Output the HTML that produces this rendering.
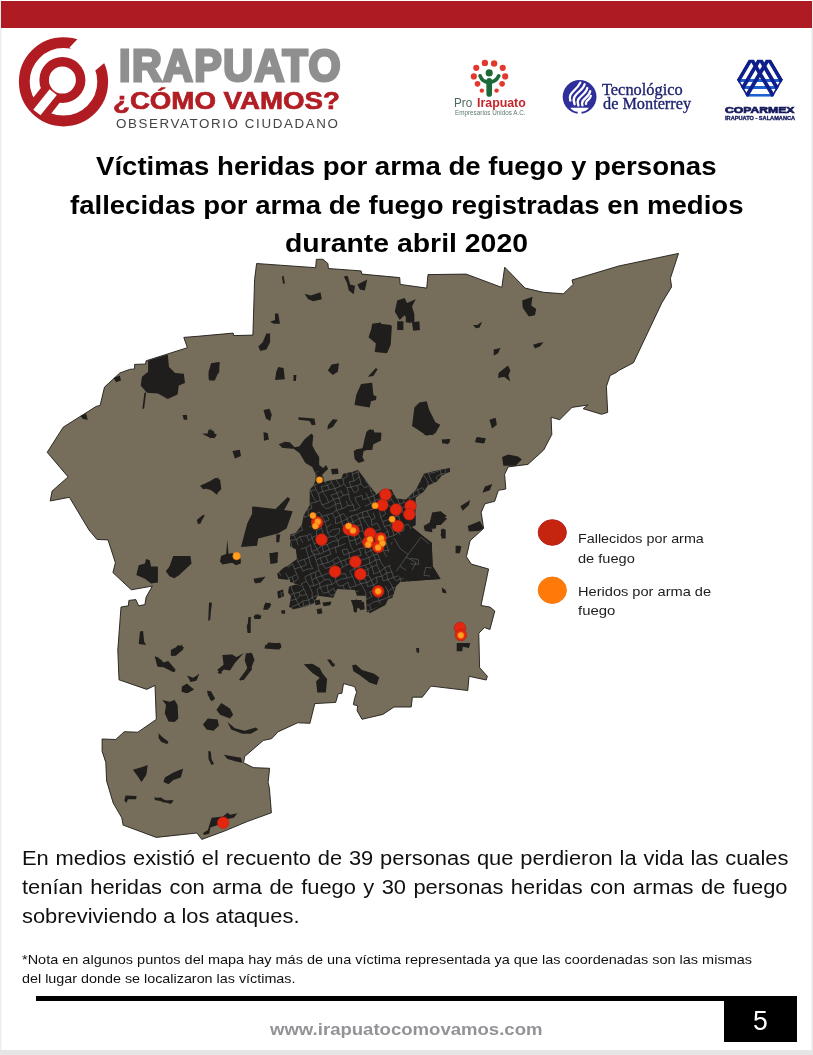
<!DOCTYPE html>
<html lang="es">
<head>
<meta charset="utf-8">
<title>Irapuato ¿Cómo Vamos? - Víctimas por arma de fuego, abril 2020</title>
<style>
html,body{margin:0;padding:0;}
body{width:813px;height:1055px;overflow:hidden;background:#e6e6e6;font-family:'Liberation Sans', Arial, sans-serif;}
.page{position:absolute;left:0;top:0;width:811.5px;height:1049.5px;background:#fff;overflow:hidden;box-shadow:inset 1.5px 0 0 #ededed, inset -1px 0 0 #f2f2f2;}
.topbar{position:absolute;left:1px;top:1px;width:811px;height:26.5px;background:#af1b22;}
.ln{position:absolute;white-space:pre;line-height:1;transform-origin:0 50%;margin:0;padding:0;}
.t1,.t2,.t3{font-weight:bold;color:#000;}
.b1,.b2,.b3,.n1,.n2{color:#101010;}
.l1,.l2,.l3,.l4{color:#1c1c1c;}
.url{font-weight:bold;color:#939397;}
.pg{color:#fff;}
.lg1{font-weight:bold;color:#8f8f8f;}
.lg2{font-weight:bold;color:#b11e24;}
.lg3{color:#444;letter-spacing:1.6px;}
.pi1{color:#4d6b5c;}
.pi2{font-weight:bold;color:#c4262c;}
.pi3{color:#5d7a6b;}
.tm1,.tm2{font-family:'Liberation Serif', 'Times New Roman', serif;color:#1f2370;}
.cp1,.cp2{font-weight:bold;color:#14195c;}
h1,p{margin:0;padding:0;font-weight:normal;font-size:inherit;}
svg{position:absolute;left:0;top:0;}
.rule{position:absolute;left:36px;top:995.7px;width:761px;height:5.2px;background:#000;}
.pgbox{position:absolute;left:724px;top:996px;width:73px;height:45.7px;background:#000;}
</style>
</head>
<body>
<div class="page">
<div class="topbar"></div>
<header>
<svg class="logos" width="813" height="140" viewBox="0 0 813 140"><g fill="none" stroke="#b11c22"><circle cx="63.5" cy="81.8" r="39.2" stroke-width="10.8"/><polygon points="69.5,47.6 80.2,36.2 84,28 114,34 114,58 105.8,61.8 95.3,70.6" fill="#fff" stroke="none"/><line x1="62.4" y1="80.1" x2="38.8" y2="109.9" stroke-width="24"/><circle cx="62.4" cy="80.1" r="18.25" stroke-width="9.5" fill="#fff"/><line x1="53.2" y1="92.1" x2="36.9" y2="112.5" stroke="#fff" stroke-width="9.2"/></g><g transform="translate(440,50) scale(0.123)"><g fill="#e2392d"><circle cx="295" cy="145" r="25"/><circle cx="365" cy="105" r="26"/><circle cx="440" cy="110" r="26"/><circle cx="510" cy="145" r="25"/><circle cx="530" cy="215" r="25"/><circle cx="505" cy="275" r="23"/><circle cx="460" cy="330" r="18"/><circle cx="340" cy="330" r="18"/><circle cx="305" cy="275" r="23"/><circle cx="275" cy="215" r="25"/></g><g fill="none" stroke="#1d6a38" stroke-linecap="round"><circle cx="400" cy="186" r="29" fill="#1d6a38" stroke="none"/><path d="M400 250V358" stroke-width="46"/><path d="M326 210Q345 262 400 262Q455 262 478 210" stroke-width="30"/></g></g><g><circle cx="579.6" cy="96.9" r="16.9" fill="#2f2f9c"/><g fill="none" stroke="#fff" stroke-width="2.3" stroke-linecap="round"><path d="M570.3 100.5C567.5 92.5 576.5 91 580.3 82.6"/><path d="M574.6 104.2C570.5 94 581.5 93 584.6 84.3"/><path d="M578.4 105.4C574.5 97 585.5 96 587.3 88"/><path d="M582.4 105.4C580 99 589 98 590.2 91.2"/><path d="M586 103.8C585 100.5 590.5 99.5 590.8 96"/></g><path d="M570.2 107.7H589Q586 111.6 581.5 111.8V114.5H577.7V111.8Q573.2 111.6 570.2 107.7Z" fill="#fff"/></g><clipPath id="hex"><polygon points="213,58 597,58 795,395 625,692 185,692 15,395"/></clipPath><g transform="translate(736,56) scale(0.05903)"><g clip-path="url(#hex)" fill="none"><g stroke="#1b5fd0" stroke-width="50"><path d="M0 414H813"/><path d="M40 534H770"/><path d="M120 668H690"/></g><g stroke="#0e1f8a" stroke-width="64"><path d="M-19 520L259 49L643 700"/><path d="M56 640L405 49L754 640"/><path d="M167 700L551 49L829 520"/><path d="M15 395L185 692M795 395L625 692" stroke-width="56"/></g></g></g></svg>
<div class="brand"><span class="ln lg1" style="left:118.5px;top:42.5px;font-size:45.0px;transform:scaleX(0.9151);-webkit-text-stroke:3.0px #8f8f8f;letter-spacing:1.6px">IRAPUATO</span><span class="ln lg2" style="left:113.3px;top:88.6px;font-size:24.0px;transform:scaleX(1.1520);-webkit-text-stroke:0.7px #b11e24">¿CÓMO VAMOS?</span><span class="ln lg3" style="left:116.2px;top:116.8px;font-size:13.4px;transform:scaleX(0.9975);letter-spacing:1.6px">OBSERVATORIO CIUDADANO</span></div>
<div class="partner"><span class="ln pi1" style="left:454.3px;top:97.2px;font-size:12.0px;transform:scaleX(0.9739)">Pro</span><span class="ln pi2" style="left:476.5px;top:97.2px;font-size:12.0px;transform:scaleX(1.0308)">Irapuato</span><span class="ln pi3" style="left:454.6px;top:110.1px;font-size:6.6px;transform:scaleX(0.9583)">Empresarios Unidos A.C.</span></div>
<div class="partner"><span class="ln tm1" style="left:601.5px;top:82.3px;font-size:16.6px;transform:scaleX(0.9862);-webkit-text-stroke:0.35px #1f2370">Tecnológico</span><span class="ln tm2" style="left:603.4px;top:95.7px;font-size:16.6px;transform:scaleX(0.9799);-webkit-text-stroke:0.35px #1f2370">de Monterrey</span></div>
<div class="partner"><span class="ln cp1" style="left:724.8px;top:105.1px;font-size:9.6px;transform:scaleX(1.2698);-webkit-text-stroke:0.7px #14195c">COPARMEX</span><span class="ln cp2" style="left:724.8px;top:115.8px;font-size:5.0px;transform:scaleX(1.1250);-webkit-text-stroke:0.3px #14195c">IRAPUATO - SALAMANCA</span></div>
</header>
<h1><span class="ln t1" style="left:96.0px;top:154.4px;font-size:25.2px;transform:scaleX(1.0945)">Víctimas heridas por arma de fuego y personas</span><span class="ln t2" style="left:70.0px;top:192.5px;font-size:25.2px;transform:scaleX(1.0935)">fallecidas por arma de fuego registradas en medios</span><span class="ln t3" style="left:284.5px;top:230.7px;font-size:25.2px;transform:scaleX(1.1271)">durante abril 2020</span></h1>
<svg class="map" width="813" height="1055" viewBox="0 0 813 1055"><polygon points="89,530 69.4,497.3 50.2,501 52.1,491.1 68.1,476.9 47.2,452.3 63.2,427.2 96.4,406.3 100.1,405.5 104.5,387.1 119.8,373 129.6,369.4 134.6,368.9 134.6,364.4 145.6,364 146.1,360.8 167.8,353.9 187.4,347.7 183.8,337.4 200,336.1 233.2,333.1 233.7,335.6 252.9,335.1 254.6,279.5 256.6,263.5 315.6,267.7 316.4,259.3 323,259.3 327.9,263.5 328.4,268.5 361.1,270.9 361.9,274.1 399.7,277.6 400.2,284.4 426.7,288.1 428,274.6 466.1,274.1 501.8,287.4 504.7,267.2 525.1,288.1 543.6,292.3 563.4,293.8 573.2,284.4 572,280 618.7,266 678.5,253.4 670.4,278.3 671.6,286.9 661.8,302.9 633.5,362.7 618.7,370.5 616.3,372.5 610.1,375.5 606.4,386.5 607.7,412.4 601.5,414.3 583.1,408.7 588,405 572,407.4 559.7,419.7 551.1,417.3 551.8,434.5 543.7,450 527.9,464.4 508.2,466.9 504.6,474.3 505.8,489 498.4,490.3 494.7,501.3 484.9,503.8 481.2,512.4 483.6,528.4 470.1,540.7 466.4,556.7 471.3,564.1 488.6,569 481,605.5 489.9,607 494.8,611 489.9,629.5 484.5,627.6 478.8,633.2 479.6,667.7 487.4,676.3 486.2,680 469,676.3 467.8,690.5 430.9,686.1 422.3,697.2 412.4,697.2 411.2,707 394,707 382.9,714.4 362,719.3 357.1,710.7 357.6,705.8 353.4,704.6 354.6,698.4 356.6,692.3 354.6,686.6 343.5,683.6 341.9,693.3 338.2,693.8 335.7,702.4 314.8,703.6 309.9,723.3 297.6,722.8 277.9,731.9 271.8,738.6 263.2,740.5 244.7,756.5 243.5,762.7 253.3,767.6 269.6,768.3 268.1,782.4 269.4,788.2 271.4,812.8 247.3,821.5 223.9,831.3 201.8,839.4 196.9,833 156.3,837.4 123.1,825.1 121.8,817.8 113.2,803 106.6,780.9 105.8,762.4 102.1,751.3 102.1,739 115.7,739.5 124.3,731.7 137.8,732.2 156.3,719.4 155,685.4 146.8,689.4 119,679.8 117.8,650.1 121,607 128.4,605.8 128.9,600.4 135.8,599.6 138.7,605.8 144.9,604.6 146.1,597.2 152.3,586.1 131.3,589.8 112.9,572.6 115.4,562.7 108,539.9 96.9,539.4" fill="#766e5b" stroke="#1e1c19" stroke-width="0.9" stroke-linejoin="miter"/><path d="M148.1 360.8 167.8 354.6 169 366.9 175.1 373.1 183.8 373.8 185 382.9 178.8 385.4 177.6 394.5 167.8 398.9 157.9 393.5 146.9 392.7 140.7 385.4 141.9 376.7 148.1 371.8ZM144.4 392.7 146.1 392.7 144.1 408.7 142.4 408.7ZM212 363.2 218.2 362 219.4 371.8 213.3 380.4 209.1 380.4 208.4 374.3 211.5 370.6ZM113.6 378 119.8 375.5 121 380.4 116.1 382.2ZM80.4 416.1 86.1 413.6 87.8 419.8 82.9 419.1ZM182.5 414.9 186.9 414.9 187.4 419.8 183.8 419.8ZM202.2 433.8 209.6 433.3 210.8 428.4 213.3 433.3 217 434.6 214.5 438.2 208.4 437ZM199.7 486.2 207.1 482.5 218.2 477.6 220.7 487.4 217 494.8 210.8 489.9 205.9 488.7ZM197.3 519.4 203.4 514.5 201 523.1 198.5 524.3ZM281.9 276.6 283.6 275.8 284.9 283.2 283.1 283.9ZM304.6 293.8 310.7 295.5 320.5 292.3 321.8 299.2 313.2 301.2 308.2 299.2ZM343.9 276.6 347.6 275.8 350.1 284.4 355 285.7 353.8 294.3 348.8 290.6 347.1 283.2ZM357.4 284.4 367.3 279.5 364.8 290.6 359.9 289.4ZM275 313.5 278.2 313.5 280 323.8 273.8 323.8 270.1 321.8 275 320.1ZM266.4 333.6 270.1 333.6 270.1 342.3 266.4 349.6 260.3 350.9 258.3 346.4 262.7 342.3ZM211.1 363.2 219.7 361.9 219.2 370.5 214.8 380.4 208.6 379.2 208.6 371.8ZM278.2 366.9 283.6 368.1 284.9 379.2 275 379.9 276.3 371.8ZM293.5 375 296.4 375 295.9 380.9 293.5 380.9ZM331.6 364.4 339 363.2 337.8 371.8 332.8 375 327.9 370.5ZM372.2 323.8 380.8 322.6 382 326.3 391.9 325.8 390.7 344.7 387 353.3 374.7 352.1 375.9 343.5 368.5 337.3 371 330ZM375.9 368.1 377.6 369.3 373.4 376 367.8 376.7ZM361.1 384.1 372.2 382.8 373.4 395.1 376.6 396.4 375.9 400.1 371 401.3 369.7 407.4 354.5 405 356.2 395.1ZM263.5 409.9 269.4 408.7 271.8 414.8 270.1 421 265.9 418.5ZM298.4 417.3 314.4 418.5 315.6 424.7 311.9 425.2 309.5 421 298.4 419.7ZM332.8 419.2 337.8 419.7 332.8 427.1 327.4 429.6 327.9 425.2ZM208.6 429.6 213.5 430.8 216 437 209.8 438.2 207.4 434.5ZM263.5 432 267.7 433.3 268.9 439.4 264 440.7ZM278.7 444.3 284.9 441.9 288.6 446.8 282.4 448ZM367.3 430.8 373.4 429.6 374.7 433.3 381.5 433.3 380.8 440.7 373.4 444.3 372.2 450 363.6 450 364.3 439.4ZM397.2 300.4 404.6 298 407.1 302.9 415.7 299.2 412 306.6 414.4 314.5 409.5 323.8 404.6 315.2 399.7 320.1 394.8 311.5ZM412 322.6 419.4 321.3 419.9 330 413.2 330.7ZM405.8 314.5 414.4 314.5 414.4 322.6 405.8 322.6ZM397.2 321.3 403.4 321.3 403.4 330 397.2 330ZM380 323.8 391.1 325 388.6 348.4 380 352.1ZM473 325 477.2 325 482.1 321.8 479.6 327.5 475.9 328.2ZM522.2 300.4 532.5 296.7 531.3 305.4 536.2 309 535 315.2 528.8 316.4 522.7 307.8ZM533 344.7 538.7 343 543.6 342.3 539.9 346.4 535 348.4ZM493.7 349.6 500.5 347.9 498.1 353.3 493.7 355.8ZM498.6 373 507.9 365.6 510.4 370.5 508.4 375.5 510.4 381.6 504.2 376.7 498.1 377.9ZM414.4 407.4 419.4 402.5 426.7 401.3 429.2 409.9 435.4 422.2 440.3 424.7 435.4 433.3 426.7 435.7 419.4 430.8 412 425.9ZM489.5 419.7 495.6 417.8 496.9 424.7 491.9 428.4ZM477.2 437 485.8 438.2 484.6 443.1 475.9 441.9ZM441.5 439.4 450.1 438.9 447.7 444.3 442.7 443.1ZM502.1 457.1 508.2 454.6 518.1 456.6 521.8 459.5 515.6 465.7 503.3 465.7ZM476.3 437.4 484.9 438.6 483.6 443.5 475 442.3ZM441.8 439.8 450.4 439.3 449.2 443.5 442.3 443.5ZM422.1 430 436.9 430 433.2 434.9 424.6 434.9ZM484.9 486.6 492.3 484.1 489.8 490.3 482.4 492.7ZM460.3 506.3 470.1 500.1 468.9 505 462.7 510.7ZM432 512.4 440.6 511.2 446.7 516.1 443.1 519.8 436.9 523.5 435.7 528.4 424.6 529.6 424.6 525.9 430.8 522.3ZM467.7 525.9 480 521 483.6 528.4 478.7 530.9 468.9 531.4ZM441.8 528.4 445.5 529.6 444.3 537 440.6 535.8ZM455.4 548.1 461.5 546.1 460.3 551.8 456.6 551ZM441.8 587.4 445.5 589.9 446.7 593.6 442.3 592.4ZM352.1 665.2 355.8 664.5 362 670.1 374.3 673.8 379.2 677.5 376.7 684.9 369.4 682.4 359.5 675 353.4 671.3ZM416.1 648 419.1 648 419.1 652.9 416.6 652.2ZM456.7 643.1 470.2 643.1 469 648 462.8 646.7 462.3 651.2 456.7 651.2ZM331.2 662.7 334.9 663.5 334.4 666.4 331.2 665.9ZM350.9 600 362 600 359.5 608.6 353.4 607.4ZM366.9 600 387.8 600 385.4 604.9 369.4 613.5ZM154.9 656.9 161.1 659.4 164.8 664.3 174.6 670.4 173.4 672.2 163.5 667.2 157.4 666.7ZM170.9 650.8 177.1 648.3 182 644.6 183.2 649.5 175.8 655.7 170.9 655.7ZM222.6 655.7 231.2 654.4 234.9 658.1 243.5 653.2 234.9 663.1 230 670.4 222.6 669.2 221.3 674.1 217.7 672.9 218.9 669.2 223.8 665.5ZM245.9 653.2 252.1 653.2 254.6 660.6 250.9 665.5 252.1 669.2 243.5 680.3 240.5 679 247.2 668 244.7 660.6ZM268.1 642.6 280.4 643.4 281.6 647.1 279.2 649.5 265.1 648.3ZM303.8 664.3 312.4 663.8 319.7 668 322.2 672.9 327.1 679 325.9 692.6 317.3 692.6 316.1 681.5 319.7 677.8 312.4 672.9 307.4 668ZM186.9 675.4 193.1 677.8 199.2 674.1 196.7 680.3 190.6 681.5ZM182 686.4 186.9 683.5 191.8 687.7 193.1 690.1 185.7 693.3 181.5 691.3ZM207.1 690.8 211 691.3 215.2 698.7 211.5 701.2 207.8 695ZM162.3 700 169.7 701.7 174.6 700 177.6 704.9 178.3 718.4 174.6 722.1 168.5 721.4 164.8 713.5 166 704.9ZM221.3 703.1 230 708.6 233.1 714.7 230 718.4 220.1 714.7 216.4 709.8ZM207.8 718.4 217.7 719.6 218.9 725.8 213.5 730.7 206.6 729.5 202.9 724.6ZM227.5 722.1 234.9 728.2 244.7 730.7 255.8 727.5 258.2 729.5 250.9 733.7 242.3 733.7 231.2 729.5ZM158.6 733.2 162.3 736.9 168.5 741.8 167.2 744.2 161.1 741.8 158.6 738.1ZM208.3 750.9 210.8 751.6 211.5 759 214 763.9 211.5 765.1 208.5 759ZM223.8 754.8 233.6 756.5 241 757.8 242.3 762.7 236.1 761.5 227.5 759ZM164.8 777.4 173.4 772.5 179.5 770.1 183.2 768.8 180.8 777.4 173.4 779.9 168.5 784.3 163.5 781.9ZM154.4 797.6 161.1 798.4 167.2 800.8 172.1 802 170.9 804 162.3 801.5 154.9 800.1ZM327.1 659.4 330.8 659.4 334.5 665.5 332 666.7ZM247.2 623.7 250.9 624.9 249.6 632.3 247.2 631.1ZM138.7 565.2 144.9 563.5 146.1 559 149.8 560.3 151 566.4 157.9 566.4 157.9 582.4 151 583.6 144.9 578.7 136.3 575ZM173.2 556.1 190.4 556.1 191.6 563.5 179.3 575 174.4 578.2 169.5 576.3 165.8 571.3 169.5 566.4ZM221.1 556.1 226.1 554.1 227.3 539.4 228.5 554.1 232.2 552.9 240.8 559 240.8 563.5 235.9 565.2 232.2 562.7 222.4 564.5 219.9 561.5ZM199 518.5 205.1 514.8 200.2 523.4 197.3 523.4ZM140 631.6 143.1 630.9 144.1 641.5 146.1 645.1 138.7 643.9ZM154.7 656.2 158.4 657.4 163.3 662.4 168.2 661.1 175.6 669.7 174.4 672.2 165.8 667.3 157.2 666.1ZM170.7 650.1 175.6 647.6 178.1 645.1 184.2 647.6 178.1 653.8 171.9 656.2ZM222.4 655 232.2 654.5 237.1 657.4 243.3 653.8 232.2 664.8 229.7 669.7 223.6 669.7 219.9 673.4 217.4 669.7 223.6 664.8ZM245.7 655 250.7 652.5 254.3 659.9 250.7 669.7 240.8 680.8 239.1 679.6 248.2 667.3ZM187.9 675.9 194.1 678.4 199 673.4 196.5 680.8 190.4 682ZM181.8 687 187.9 684.5 194.1 689.4 187.9 693.1 181.8 691.9ZM207.6 690.7 212.5 694.3 215 700 210.1 700ZM254.3 578.7 260 577.5 260 582.4 255.6 583.6ZM210.1 603.3 212 603.3 209.6 620.5 208.1 620.5ZM248.2 618.1 250.7 618.1 249.9 632.8 247.5 632.8ZM132.9 769.8 141.5 767.3 147.7 764.9 146.4 774.7 141.5 782.1 136.6 774.7ZM125.5 795.6 136.6 796.1 136.1 799.3 128 799.3 126.2 803 124.3 800.5ZM153.8 798.1 161.2 797.6 164.9 800.5 173.5 800 172.3 802.5 163.6 802.5ZM211.6 817.8 222.7 816.5 227.6 812.8 230.1 814.8 237.4 813.3 233.8 817.8 227.6 819 217.8 825.1 210.4 827.6 209.2 833.8 204.2 835 203 833 207.9 830.1ZM252.1 506.4 275.5 508.9 287.8 497.1 290.2 499 284.1 510.1 292.7 511.3 286.5 528.6 277.9 533.5 258.2 538.4 257 545.8 241 547 247.2 523.6 252.1 513.8ZM200.4 485.5 209 481.8 215.2 478.1 220.1 479.4 221.3 489.2 216.4 494.1 210.3 488 202.9 489.2ZM232.4 451.1 239.8 449.8 241 456 234.9 458.5ZM196.7 520 204.1 515 200.4 523.1 198 523.6ZM255.8 579 265.6 576.5 260.7 582.7 254.6 582.2ZM209 602.4 211.5 602.4 210.3 619.6 208.3 619.6ZM248.4 617.1 250.9 617.1 250.4 633.1 247.2 631.9ZM264.4 604.8 270.5 602.4 268.1 609.7 263.2 609.7ZM254.6 614.7 259.5 614.2 258.2 618.4 254.6 618.4ZM270.5 553.2 276.7 551.9 277.9 561.8 271.8 563ZM432.2 512.6 440.8 511.3 447 518.7 440.8 524.9 432.2 524.9 432.2 532.3 424.8 531 423.6 526.1 429.7 522.4ZM440.8 529.8 445.7 529.8 445.7 538.4 441.5 538.4ZM455.6 545.8 460 545.8 460 553.2 455.6 553.2ZM269.4 553.1 278.2 552.2 277.2 563 270.4 564ZM276.3 534.4 280.2 534.4 279.2 542.3 276.3 542.3ZM265.4 602.4 271.3 604.3 269.4 608.3 263.5 608.3ZM253.6 616.1 261.5 615.2 260.5 619.1 254.6 619.1ZM246.7 626 250.7 626 250.7 632.9 247.7 632.9ZM253.6 578.7 265.4 576.8 259.5 581.7 254.6 582.7ZM265.4 644.7 280.2 642.7 281.2 646.7 277.2 649.6 264.4 648.6ZM314.6 600.4 319.6 599.4 320.6 604.3 315.6 605.3ZM322.5 602.4 331.4 601.4 330.4 605.3 323.5 606.3ZM316.6 609.3 321.5 608.3 322.5 613.2 317.6 614.2ZM352 600.4 357 599.4 358 604.3 353 605.3ZM358.9 602.4 363.9 601.4 364.8 609.3 359.9 610.2ZM353 607.3 357 607.3 357 612.2 354 612.2ZM281.2 610.2 285.1 610.2 285.1 613.8 281.6 613.8ZM278.9 444.3 284.8 441.7 289.7 442.3 294.6 447.2 299.5 446.3 304.4 439.4 311.3 433.5 313.3 435.4 312.3 445.3 315.3 451.2 319.2 457.1 319.2 465 323.1 467.9 326.1 465 328.1 468.9 323.1 473.8 316.3 475.8 312.3 466.9 305.4 463 299.5 453.1 293.6 448.8 285.7 448.2ZM366.5 431.5 370.4 429.1 373.3 432.5 381.2 432.5 381.2 438.4 376.3 442.3 372.4 442.3 371.4 448.2 363.5 451.2 362.5 457.1 364.5 461 358.6 463 354.6 459.1 353.7 451.2 356.6 449.2 362.5 448.2 364.5 439.4ZM331 468.9 337.9 468.5 338.5 473.8 332 474.4Z" fill="#1f1e1c"/><path d="M315.6 471.8 321.5 470.8 324.4 482 328.4 480.7 341.2 478.7 343.1 473.8 353 471.8 357.9 469.8 372.7 489.5 376.6 494.4 382.5 489.5 391.4 489.5 396.3 498.4 406.1 499.4 416 489.5 423.9 473.8 439.6 469.8 450 467.9 450 471.8 441.6 475.7 436.7 481.7 427.8 485.6 423.9 491.5 416 497.4 416 525 412 526.9 423.9 536.8 431.7 542.7 432.7 566.3 440.6 579.1 425.8 580.1 400.2 582 396.3 586 392.4 597.8 382.5 601.7 376.6 607.6 366.8 612.6 365.8 595.8 356.9 595.8 355 589.9 337.2 588.9 333.3 597.8 317.6 595.8 313.6 603.7 301.8 607.6 292 609.6 295.9 597.8 301.8 586 290 582 290 570.2 299.8 566.3 303.8 558.4 297.9 550.6 290 546.6 290 534.8 295.9 532.8 301.8 525 303.8 515.1 309.7 505.3 309.7 489.5 313.6 485.6 315.6 479.7Z" fill="#1f1e1c"/><path d="M307.8 535.4 300.9 542.3 295.9 550.2 296.9 559.1 289.1 565 283.1 567.9 277.2 573.8 278.2 578.7 287.1 579.7 295 577.8 304.8 576.8 308.7 572.8 316.6 565 322.5 559.1 322.5 539.4Z" fill="#1f1e1c"/><path d="M289.1 586.6 295.9 584.6 303.8 586.6 308.7 582.7 307.8 590.6 304.8 598.4 295.9 608.3 289.1 607.3 291 596.5 288.1 592.5ZM277.2 591.5 283.1 589.6 284.1 596.5 278.2 598.4Z" fill="#1f1e1c"/><clipPath id="cityclip"><polygon points="315.6,471.8 321.5,470.8 324.4,482 328.4,480.7 341.2,478.7 343.1,473.8 353,471.8 357.9,469.8 372.7,489.5 376.6,494.4 382.5,489.5 391.4,489.5 396.3,498.4 406.1,499.4 416,489.5 423.9,473.8 439.6,469.8 450,467.9 450,471.8 441.6,475.7 436.7,481.7 427.8,485.6 423.9,491.5 416,497.4 416,525 412,526.9 423.9,536.8 431.7,542.7 432.7,566.3 440.6,579.1 425.8,580.1 400.2,582 396.3,586 392.4,597.8 382.5,601.7 376.6,607.6 366.8,612.6 365.8,595.8 356.9,595.8 355,589.9 337.2,588.9 333.3,597.8 317.6,595.8 313.6,603.7 301.8,607.6 292,609.6 295.9,597.8 301.8,586 290,582 290,570.2 299.8,566.3 303.8,558.4 297.9,550.6 290,546.6 290,534.8 295.9,532.8 301.8,525 303.8,515.1 309.7,505.3 309.7,489.5 313.6,485.6 315.6,479.7"/><polygon points="307.8,535.4 300.9,542.3 295.9,550.2 296.9,559.1 289.1,565 283.1,567.9 277.2,573.8 278.2,578.7 287.1,579.7 295,577.8 304.8,576.8 308.7,572.8 316.6,565 322.5,559.1 322.5,539.4"/><polygon points="289.1,586.6 295.9,584.6 303.8,586.6 308.7,582.7 307.8,590.6 304.8,598.4 295.9,608.3 289.1,607.3 291,596.5 288.1,592.5"/><polygon points="277.2,591.5 283.1,589.6 284.1,596.5 278.2,598.4"/></clipPath><path clip-path="url(#cityclip)" d="M278.7 600.3L280.7 604.0L283.1 608.6L284.6 615.4L285.9 620.2M276.3 577.3L278.3 582.5M280.7 593.0L282.2 597.0L284.6 602.1L286.9 606.9L288.3 612.5L290.8 617.9M277.4 569.6L280.9 575.7M283.0 579.8L285.0 585.7L285.8 591.0L289.6 595.7M297.7 615.2L299.0 621.9M277.5 553.1L278.5 558.1L280.6 562.5L283.9 567.7M285.7 573.4L288.3 577.6L289.8 583.1L291.8 588.6L293.6 593.5L296.0 599.4L298.5 604.2L300.5 607.8M302.4 614.6L304.3 617.8M276.3 536.1L278.6 539.6L279.8 546.6M282.6 550.9L283.1 555.0L286.7 560.4L287.9 567.1M292.0 577.1L294.0 582.2M299.2 592.1L300.0 595.8M302.7 600.9L303.9 606.2M305.8 611.5L308.5 616.6M276.6 523.0L278.4 528.2L281.1 534.3M284.2 538.0L285.2 544.5L286.9 548.3L288.3 553.7L291.4 558.7M292.9 564.0L294.4 568.8L296.7 574.1L298.4 578.4M301.2 583.8L304.0 589.2L306.5 594.5L308.7 600.0L309.7 604.3L312.8 608.5L314.7 614.8L315.6 620.9M277.0 510.6L280.3 515.0L283.0 521.7L284.1 525.8L286.4 531.5L289.0 536.2M290.3 540.3L291.5 546.2L294.9 550.9L296.3 555.5L297.6 561.6L301.2 567.0L303.0 571.3M304.8 576.9L306.5 581.3L309.5 586.2L312.3 592.8L312.1 597.7L316.2 603.2L316.9 607.2L319.0 613.8L320.8 618.2L322.7 623.2M276.6 493.2L280.1 498.2L280.7 503.5L282.3 507.9L284.7 514.7L287.2 519.9M288.6 523.7L291.2 528.4L293.6 535.2L296.5 539.5L298.2 545.1M304.2 559.3L306.4 564.8M310.5 573.8L311.8 579.7L313.8 585.8M316.9 589.3L318.3 594.8L320.3 600.2L321.3 605.1M324.1 611.7L326.2 615.2L329.7 621.5M278.4 480.2L279.3 485.8L281.8 491.2L285.3 496.7L286.5 500.2M287.5 507.4L291.1 511.3L292.1 515.7M294.6 522.8L297.4 527.4M299.5 536.8L302.9 542.6M305.8 547.5L307.3 552.9L308.8 557.7L310.2 563.6L312.8 568.8M315.2 572.3L316.1 577.8L319.6 583.4L320.1 587.6L323.4 593.4M329.0 608.6L332.6 613.6L334.3 618.4L334.9 623.6M277.0 462.9L279.7 469.1L280.7 473.3L283.8 478.2L285.5 483.3M286.8 490.0L289.2 495.4L291.0 498.8M292.7 504.6L296.1 510.4L296.7 514.8L299.3 521.0L300.5 524.3L302.7 530.2M306.8 535.6L308.6 541.0M310.6 544.6L311.6 551.6L314.1 554.3L316.2 560.2L317.7 565.5L319.0 570.1L321.6 575.8L324.9 579.9M327.0 585.1L328.3 592.0L331.0 595.9M331.5 601.7L334.6 607.5M335.9 611.6L339.1 615.4M281.4 461.3L283.2 467.7L287.0 471.8L288.7 475.6L289.6 482.2L293.6 487.7L293.9 491.8M299.1 501.4L301.3 507.8M303.4 512.9L304.7 517.3M310.4 533.8L312.0 537.5L314.0 543.7L317.0 549.5L320.2 554.1M320.3 557.9L322.3 564.0L325.6 568.5M329.7 579.2L332.2 584.5M333.5 588.2L336.1 593.5M339.9 603.6L341.0 609.2L343.4 615.7L345.8 619.3M290.2 464.5L292.0 469.2L293.9 474.5L295.0 480.8M297.9 483.9L299.7 490.4L300.8 495.3L302.6 500.1M305.2 505.9L307.7 509.9L308.6 515.7M311.9 520.0L313.2 525.4M316.5 530.8L316.7 535.6L319.9 541.4L322.0 545.3L323.6 552.1M325.8 556.1L328.2 562.7M330.0 567.0L332.0 571.7L335.6 577.6L336.0 581.5L338.8 586.3M339.9 593.4L342.8 598.0L344.9 603.2L346.4 606.8L347.9 613.1M351.6 618.4L352.3 623.4M293.5 458.1L293.8 461.7L297.1 467.2L299.3 472.7M304.6 488.9L307.0 492.3L308.0 498.4M310.6 503.2L311.8 508.3M315.6 514.3L316.0 519.2L319.1 522.7L321.4 527.9L323.3 534.0L325.2 538.6M327.1 544.5L329.2 549.7L331.1 554.3M332.5 560.2L335.2 564.1M338.3 570.1L339.2 574.2M342.9 585.2L344.8 590.3M347.4 594.3L349.8 599.4L352.6 605.8L353.6 609.6L355.9 615.4M299.6 459.7L302.0 464.9M303.8 469.8L305.8 476.7M306.8 480.7L309.5 485.7L310.5 490.9L313.4 497.4L316.5 502.0M319.2 511.9L322.1 516.3L324.8 521.6L326.6 527.6L327.8 533.3L330.4 536.7M335.4 547.0L336.3 553.0M338.1 556.8L340.6 561.4L343.0 566.9M345.3 573.6L347.0 578.1M348.0 582.1L349.6 587.7L353.1 592.9L355.3 599.1M356.0 603.1L359.0 607.4M305.6 464.3L308.5 468.4L310.8 473.6L313.7 479.0M314.5 485.0L315.9 489.5L318.4 493.7L320.2 500.2L322.0 504.9L325.6 508.4M326.6 515.1L329.3 520.0M334.7 536.2L338.1 540.3L338.7 546.3M342.0 550.0L344.0 555.1M344.7 559.9L346.8 564.9M349.6 571.3L352.5 576.3L354.1 580.2L356.0 585.8M359.7 596.7L362.8 600.3L364.5 605.1M365.5 611.2L369.2 617.3L370.7 621.1M309.6 457.0L311.6 461.1L313.2 467.1L315.2 472.9L316.6 476.2L319.4 483.1M321.3 486.4L322.6 491.6L326.5 497.4L328.7 502.7M332.2 513.3L335.2 518.2L335.7 523.9M339.6 528.4L339.4 532.7M347.1 548.8L348.8 552.8L349.6 557.9L353.1 562.7L354.4 568.6L355.7 573.6L358.7 579.5L360.6 583.7L364.0 588.7L366.0 594.1L366.2 599.4M369.4 604.9L371.2 610.0L373.2 613.9L375.8 618.5M316.6 460.6L318.1 464.2L321.2 469.5M322.2 475.4L324.3 480.8L327.6 485.4L329.2 489.7M330.8 495.1L333.6 499.1L335.6 504.1L336.5 510.2L340.2 515.3L341.5 521.6L342.9 525.9L345.8 531.4L348.2 536.1L349.2 540.9L351.3 547.2L354.3 551.6M355.1 556.5L358.5 561.4L359.1 566.8L362.6 570.8M363.3 576.6L366.8 582.4L367.2 586.6M369.6 591.9L372.1 596.5M377.6 607.5L378.1 613.7M379.6 617.7L383.8 622.9M322.0 457.2L323.2 463.0L325.9 468.2L328.7 472.2L330.4 478.3L331.7 482.4L334.9 488.6L336.9 493.3L339.1 498.3L340.6 503.1L342.1 508.8M343.6 513.7L347.3 518.8L348.6 523.1L350.4 528.8L352.9 533.6L355.5 539.8L356.3 544.7M359.3 548.8L361.3 555.3M364.6 565.4L368.0 569.3L368.4 575.2L371.5 580.2L373.4 585.2L376.0 589.8M377.6 596.1L379.0 600.8L381.5 605.9L383.2 611.7M331.7 465.6L333.0 470.8L334.9 476.9L337.0 481.3L340.1 486.3M341.1 490.7L343.1 495.4M346.0 500.7L348.0 505.6M351.2 516.0L352.8 522.5L355.1 526.4M357.4 532.0L359.8 537.3L362.1 541.6L365.1 547.5L365.4 553.3L369.1 557.6L369.7 563.4L372.1 566.5L373.6 574.0M376.4 577.1L377.3 582.5M380.1 588.7L381.9 592.5M386.3 604.3L389.1 608.8L391.4 614.1L393.7 619.0M336.5 464.2L337.4 469.7M340.2 473.9L342.9 479.4L344.0 483.8L347.0 487.8L348.8 494.3L349.6 499.8L353.3 505.0L354.7 510.5M356.7 514.5L359.2 518.3L361.4 524.8L362.8 530.7L364.6 535.0L367.3 540.5L368.4 545.2L371.0 550.4L373.7 554.6L375.8 559.9L377.1 565.0L379.8 571.6L382.0 576.2L383.0 580.6M385.2 586.2L388.1 591.5L388.9 596.9L392.5 601.0L392.7 606.3L394.6 611.2L398.9 616.4L400.5 622.1M342.1 462.1L343.5 466.2M346.2 472.0L347.3 476.2M349.0 481.8L351.1 487.0L354.2 492.8M354.8 497.6L356.4 501.8L360.4 507.2M362.6 512.0L362.8 517.7L366.5 523.5L368.9 527.3M369.5 532.1L372.2 537.2M373.1 542.3L375.4 548.9L377.9 554.5L379.8 559.4L381.2 562.8L384.7 567.8L386.7 572.8L387.9 579.7L391.4 584.4L392.8 587.9L395.2 594.4M398.8 605.4L401.0 608.2L402.1 615.1L405.4 618.4M346.5 459.1L348.4 465.2M351.6 469.8L352.4 474.2L354.0 481.1M357.3 485.4L358.4 490.3M362.0 495.4L362.8 499.7M366.8 510.9L369.5 516.2L371.5 519.9L371.9 525.6M375.1 531.0L378.2 536.4L378.6 542.0M382.3 546.6L383.3 550.7L386.4 556.6M388.9 565.8L392.0 572.1L393.3 577.4L396.4 580.9M399.6 591.4L401.6 597.8L404.5 601.9L405.5 608.2L408.4 611.6L410.7 618.2L413.0 622.3M352.8 463.0L355.8 466.6L357.6 472.2L359.3 476.7L361.1 484.2L364.5 487.6M365.8 492.5L368.4 497.7L371.1 503.4L373.0 509.0M373.2 512.7L375.2 518.1M377.0 523.0L380.7 529.4M382.6 534.8L384.8 537.7L386.5 543.7L388.1 550.4L390.1 554.5M396.3 568.9L400.1 575.2L399.9 579.0L402.3 584.7L406.1 590.4L407.3 593.8M409.8 600.3L411.8 606.1L412.0 610.0L416.1 616.1L417.5 620.0M358.0 461.6L360.4 466.6L363.7 471.1L364.0 475.9L366.3 482.0L369.7 485.8L370.7 490.7L373.6 495.8L375.0 500.3L376.2 505.6M379.6 511.3L380.8 517.5L382.7 521.6L384.4 526.5L388.0 531.1L388.8 537.1M391.5 542.9L393.2 548.4M395.1 553.3L397.8 556.5L399.5 561.9L401.1 567.0L404.0 573.7L407.3 578.1L407.0 582.7L410.5 586.6M412.4 592.3L414.8 596.7L416.7 602.6L417.2 607.5M421.1 613.1L421.7 618.6L425.1 622.6M364.1 458.6L366.4 463.3L366.8 467.9L370.2 473.2L372.0 477.6L374.5 483.2L377.0 489.4L377.7 493.0M381.0 498.7L382.8 503.4L383.9 510.2L385.8 513.8M389.4 525.0L392.4 529.8L394.0 535.5M402.2 556.3L405.8 559.9L407.0 565.4L408.7 569.5L411.8 574.6L412.1 580.1M414.9 586.6L415.9 590.5L419.4 595.2M420.4 601.7L423.6 606.2M369.8 456.9L370.5 461.3L373.6 466.2L375.1 472.5M377.4 476.1L378.4 481.6M384.1 492.5L386.2 497.5L386.4 502.5L390.6 507.7L390.8 512.4M393.6 517.1L395.2 521.6M397.5 527.7L398.4 532.4L402.9 538.0L404.8 542.8M406.8 548.6L408.3 551.9M410.1 557.6L412.2 562.7L414.5 569.3M416.2 572.9L418.2 578.5L421.0 582.9L422.0 589.3L423.7 594.4L427.4 598.7L428.0 604.3M430.3 608.5L431.6 613.9L434.2 619.4M375.3 458.9L377.4 464.6L379.9 469.8L381.0 474.7L384.7 478.9M386.3 484.7L388.2 491.1M390.1 495.7L391.3 499.5L395.2 504.8L395.5 510.4L398.6 515.9L399.6 520.2M403.8 525.7L403.9 530.6M409.4 541.5L411.6 545.7L413.7 551.4L415.6 555.9M417.9 561.5L419.7 565.3M423.9 576.5L425.7 582.6L427.5 586.5L430.4 592.4L431.7 596.6L433.5 602.0L435.9 606.6L437.5 612.5L439.4 617.1M383.8 466.9L387.3 472.5L390.3 477.8L391.8 483.7M393.4 487.8L395.7 492.5M397.3 498.3L399.6 504.2L402.0 508.1L402.8 513.4M408.3 524.2L410.8 528.2L411.9 534.0L414.9 538.1L416.4 544.5M421.9 558.4L425.2 564.4L427.4 570.1L429.1 574.0L429.6 579.5L432.5 584.7L433.7 589.4L437.0 595.0M440.7 604.1L442.9 610.9L444.6 615.9M392.6 471.1L394.8 476.1L395.1 480.0L398.9 485.2L400.9 490.4L401.7 495.8L404.2 502.2L406.8 505.8L408.6 511.1L410.2 517.5M416.1 530.9L420.2 537.1L421.1 542.8M423.7 546.3L425.8 552.9L427.7 558.1L428.8 562.2M431.7 566.6L433.4 573.4L435.8 578.2M436.8 582.2L439.1 587.2L442.5 592.0L443.6 597.1L445.8 602.8L447.4 607.3M393.6 457.3L395.2 463.9L397.5 469.4M399.2 474.7L401.3 478.0M405.9 488.1L408.6 493.7L409.3 498.6L411.8 503.4L414.3 508.1L416.0 514.4M417.8 520.1L420.0 524.9M422.1 529.2L423.6 533.9L425.9 540.8L428.1 545.4L429.6 550.4M432.1 555.2L433.7 559.5L435.9 564.9L438.0 571.1M440.1 575.5L443.8 580.8L445.9 586.1M448.1 596.6L451.2 600.6M453.0 606.5L455.3 610.5L457.7 615.7M401.2 461.1L402.7 465.7L404.6 471.9L405.9 475.6M409.9 486.0L413.6 491.8L413.7 496.8M421.2 511.2L423.4 517.0M425.9 522.9L426.4 526.9L430.1 532.1L432.4 537.8L434.2 543.3M439.4 558.2L442.2 562.1M443.9 567.2L446.4 573.9L447.4 578.8M450.9 583.5L451.8 588.2M453.0 593.9L455.6 598.4M406.3 459.6L406.6 464.2L409.1 468.9L410.6 474.4M413.3 480.2L415.4 483.9L417.5 489.9L419.4 494.3L420.7 499.3L425.3 505.2L425.5 511.0L429.2 515.0M431.9 524.9L434.1 529.5M437.4 535.6L439.1 541.6M440.7 545.2L441.8 550.4M443.9 557.0L447.3 560.5L448.3 566.8L451.9 572.0M452.5 577.3L455.9 581.8M410.3 456.5L412.7 461.0M415.7 467.8L417.3 472.0L418.6 478.0L420.9 482.4M422.6 487.7L425.7 493.3L427.7 496.9L428.7 503.1M431.2 507.8L432.3 512.6L435.0 518.4L438.7 523.9M440.6 529.2L442.6 533.5L443.9 537.6L446.1 543.9M452.0 558.6L453.9 565.1L454.7 569.1M418.0 459.2L421.0 465.3L421.4 471.4L423.5 474.9L427.0 480.3L428.4 484.7L430.4 489.6L431.6 495.8L433.4 501.5L435.6 505.9L438.8 510.8L441.3 516.2M443.3 521.2L445.7 526.9L446.2 532.3L448.6 537.3L451.4 542.3M451.9 546.9L455.7 552.7L457.0 555.9M422.6 457.4L425.6 462.7M427.9 468.2L428.1 473.4L430.9 479.5L433.0 482.6M434.5 488.7L437.3 494.0L439.0 498.7L440.5 504.6L442.8 508.3L445.9 515.2L446.4 518.9L449.8 523.8L451.3 529.7M431.0 461.0L431.0 465.9M436.2 477.1L438.4 482.3L439.5 487.0L443.0 490.9L443.6 496.1L445.7 501.7L448.8 506.3L450.2 511.6L453.2 517.9M454.8 521.6L457.7 528.2M435.8 459.4L437.6 463.6L440.2 470.0L441.1 474.0L443.8 480.4L444.3 483.9M447.6 490.0L450.0 494.3L452.4 498.9L453.9 503.9L454.5 509.7L456.9 515.5M439.7 457.7L442.5 461.9L444.8 467.9L446.2 473.3M453.8 488.3L453.9 491.9M449.7 466.2L451.2 470.1L453.1 474.7M277.0 462.9L281.4 461.3L286.0 459.3L293.5 458.1M279.7 469.1L283.2 467.7L290.2 464.5M304.0 458.1L309.6 457.0M292.0 469.2L297.1 467.2L302.0 464.9L305.6 464.3L311.6 461.1L316.6 460.6L322.0 457.2M278.4 480.2L283.8 478.2M299.3 472.7L303.8 469.8M313.2 467.1L318.1 464.2L323.2 463.0L328.4 461.3M279.3 485.8L285.5 483.3M295.0 480.8L300.8 477.0L305.8 476.7L310.8 473.6L315.2 472.9L321.2 469.5M325.9 468.2L331.7 465.6L336.5 464.2L342.1 462.1M346.5 459.1L352.3 456.7M281.8 491.2L286.8 490.0L293.6 487.7L297.9 483.9M313.7 479.0L316.6 476.2M322.2 475.4L328.7 472.2L333.0 470.8L337.4 469.7M352.8 463.0L358.0 461.6L364.1 458.6L369.8 456.9M280.1 498.2L285.3 496.7M299.7 490.4L304.6 488.9M309.5 485.7L314.5 485.0L319.4 483.1L324.3 480.8M330.4 478.3L334.9 476.9M340.2 473.9L346.2 472.0L351.6 469.8M360.4 466.6L366.4 463.3M370.5 461.3L375.3 458.9L381.7 456.2M291.0 498.8L296.2 497.4L300.8 495.3L307.0 492.3L310.5 490.9L315.9 489.5M321.3 486.4L327.6 485.4L331.7 482.4M342.9 479.4L347.3 476.2M352.4 474.2L357.6 472.2L363.7 471.1M373.6 466.2L377.4 464.6M388.4 459.2L393.6 457.3M287.5 507.4L292.7 504.6L299.1 501.4L302.6 500.1L308.0 498.4M318.4 493.7L322.6 491.6L329.2 489.7L334.9 488.6L340.1 486.3L344.0 483.8M349.0 481.8L354.0 481.1L359.3 476.7M370.2 473.2L375.1 472.5M389.1 465.0L395.2 463.9L401.2 461.1L406.3 459.6M280.3 515.0L284.7 514.7L291.1 511.3M296.1 510.4L301.3 507.8L305.2 505.9M310.6 503.2L316.5 502.0L320.2 500.2M330.8 495.1L336.9 493.3L341.1 490.7M347.0 487.8L351.1 487.0L357.3 485.4L361.1 484.2M366.3 482.0L372.0 477.6L377.4 476.1L381.0 474.7M387.3 472.5L392.6 471.1L397.5 469.4L402.7 465.7L406.6 464.2L412.7 461.0L418.0 459.2M283.0 521.7L287.2 519.9L292.1 515.7M307.7 509.9L311.8 508.3M322.0 504.9L328.7 502.7L333.6 499.1L339.1 498.3L343.1 495.4L348.8 494.3M354.2 492.8L358.4 490.3M364.5 487.6L369.7 485.8L374.5 483.2L378.4 481.6L384.7 478.9L390.3 477.8L394.8 476.1M399.2 474.7L404.6 471.9M409.1 468.9L415.7 467.8L421.0 465.3M425.6 462.7L431.0 461.0L435.8 459.4L439.7 457.7M278.4 528.2L284.1 525.8L288.6 523.7M294.6 522.8L299.3 521.0M304.7 517.3L308.6 515.7M315.6 514.3L319.2 511.9M325.6 508.4L329.3 508.0L335.6 504.1L340.6 503.1M354.8 497.6L362.0 495.4M370.7 490.7L377.0 489.4L381.4 487.9L386.3 484.7M401.3 478.0L405.9 475.6L410.6 474.4L417.3 472.0L421.4 471.4L427.9 468.2L431.0 465.9L437.6 463.6M442.5 461.9L447.1 459.8M276.3 536.1L281.1 534.3M286.4 531.5L291.2 528.4M311.9 520.0L316.0 519.2L322.1 516.3L326.6 515.1L332.2 513.3L336.5 510.2L342.1 508.8L348.0 505.6L353.3 505.0M362.8 499.7L368.4 497.7L373.6 495.8L377.7 493.0L384.1 492.5L388.2 491.1M398.9 485.2L403.2 483.0L409.6 481.9M413.3 480.2L418.6 478.0M428.1 473.4L434.7 472.3L440.2 470.0L444.8 467.9M278.6 539.6L284.2 538.0L289.0 536.2L293.6 535.2L299.3 531.2L302.7 530.2M309.0 526.9L313.2 525.4L319.1 522.7L324.8 521.6L329.3 520.0M335.2 518.2L340.2 515.3L343.6 513.7M349.1 511.1L354.7 510.5L360.4 507.2M365.0 506.1L371.1 503.4L375.0 500.3L381.0 498.7M386.2 497.5L390.1 495.7L395.7 492.5L400.9 490.4L405.9 488.1M436.2 477.1L441.1 474.0L446.2 473.3M279.8 546.6L285.2 544.5L290.3 540.3L296.5 539.5L299.5 536.8L306.8 535.6L310.4 533.8M316.5 530.8L321.4 527.9M326.6 527.6L331.6 523.9M335.7 523.9L341.5 521.6L347.3 518.8L351.2 516.0L356.7 514.5L362.6 512.0L366.8 510.9L373.0 509.0L376.2 505.6M382.8 503.4L386.4 502.5L391.3 499.5M397.3 498.3L401.7 495.8L408.6 493.7L413.6 491.8L417.5 489.9L422.6 487.7M433.0 482.6L438.4 482.3L443.8 480.4M286.9 548.3L291.5 546.2M308.6 541.0L312.0 537.5L316.7 535.6M327.8 533.3L332.7 529.7L339.6 528.4M342.9 525.9L348.6 523.1L352.8 522.5L359.2 518.3L362.8 517.7L369.5 516.2M395.2 504.8L399.6 504.2L404.2 502.2M409.3 498.6L413.7 496.8L419.4 494.3L425.7 493.3L430.4 489.6M434.5 488.7L439.5 487.0L444.3 483.9M278.5 558.1L283.1 555.0L288.3 553.7L294.9 550.9M300.6 549.2L305.8 547.5L310.6 544.6M314.0 543.7L319.9 541.4M325.2 538.6L330.4 536.7L334.7 536.2L339.4 532.7M350.4 528.8L355.1 526.4L361.4 524.8M371.5 519.9L375.2 518.1M380.8 517.5L385.8 513.8M395.5 510.4L402.0 508.1L406.8 505.8L411.8 503.4M416.4 503.0L420.7 499.3M431.6 495.8L437.3 494.0L443.0 490.9L447.6 490.0L453.8 488.3M286.7 560.4L291.4 558.7L296.3 555.5M311.6 551.6L317.0 549.5L322.0 545.3L327.1 544.5L332.7 541.4L338.1 540.3L341.3 537.4L348.2 536.1L352.9 533.6M357.4 532.0L362.8 530.7M371.9 525.6L377.0 523.0M382.7 521.6L388.2 519.8L393.6 517.1L398.6 515.9M408.6 511.1L414.3 508.1L418.7 508.2L425.3 505.2L428.7 503.1L433.4 501.5L439.0 498.7M450.0 494.3L453.9 491.9M277.4 569.6L283.9 567.7M287.9 567.1L292.9 564.0M297.6 561.6L304.2 559.3L308.8 557.7L314.1 554.3L320.2 554.1L323.6 552.1L329.2 549.7L335.4 547.0L338.7 546.3L345.5 543.5M349.2 540.9L355.5 539.8L359.8 537.3M369.5 532.1L375.1 531.0L380.7 529.4M384.4 526.5L389.4 525.0L395.2 521.6M405.6 518.6L410.2 517.5L416.0 514.4L421.2 511.2M425.5 511.0L431.2 507.8M435.6 505.9L440.5 504.6M452.4 498.9L456.3 499.1M294.4 568.8L301.2 567.0L306.4 564.8M316.2 560.2L320.3 557.9L325.8 556.1L331.1 554.3M342.0 550.0L347.1 548.8M356.3 544.7L362.1 541.6L367.3 540.5L372.2 537.2L378.2 536.4L382.6 534.8L388.0 531.1M392.4 529.8L397.5 527.7L403.8 525.7L408.3 524.2M417.8 520.1L423.4 517.0M429.2 515.0L432.3 512.6L438.8 510.8M448.8 506.3L453.9 503.9M278.3 582.5L283.0 579.8M288.3 577.6L292.0 577.1L296.7 574.1M303.0 571.3L307.1 569.1L312.8 568.8M317.7 565.5L322.3 564.0L328.2 562.7L332.5 560.2L338.1 556.8M344.0 555.1L348.8 552.8L354.3 551.6L359.3 548.8L365.1 547.5L368.4 545.2L373.1 542.3L378.6 542.0M384.8 537.7L388.8 537.1L394.0 535.5L398.4 532.4L403.9 530.6M414.9 526.9L420.0 524.9L425.9 522.9L429.4 520.7L435.0 518.4L441.3 516.2M445.9 515.2L450.2 511.6L454.5 509.7M279.0 587.2L285.0 585.7L289.8 583.1L294.0 582.2L298.4 578.4M304.8 576.9L310.5 573.8L315.2 572.3L319.0 570.1M325.6 568.5L330.0 567.0L335.2 564.1L340.6 561.4L344.7 559.9L349.6 557.9L355.1 556.5L361.3 555.3M365.4 553.3L371.0 550.4L375.4 548.9L382.3 546.6L386.5 543.7M391.5 542.9L397.6 540.4L402.9 538.0L406.7 536.3L411.9 534.0L416.1 530.9L422.1 529.2L426.4 526.9M431.9 524.9L438.7 523.9M446.4 518.9L453.2 517.9M280.7 593.0L285.8 591.0M301.2 583.8L306.5 581.3M311.8 579.7L316.1 577.8L321.6 575.8L326.7 573.9L332.0 571.7L338.3 570.1L343.0 566.9L346.8 564.9L353.1 562.7L358.5 561.4L362.1 559.9L369.1 557.6L373.7 554.6L377.9 554.5M383.3 550.7L388.1 550.4L393.2 548.4L398.5 545.6L404.8 542.8L409.4 541.5L414.9 538.1L420.2 537.1M423.6 533.9L430.1 532.1L434.1 529.5L440.6 529.2L445.7 526.9M449.8 523.8L454.8 521.6M282.2 597.0L289.6 595.7L293.6 593.5L299.2 592.1L304.0 589.2M309.5 586.2L313.8 585.8L319.6 583.4L324.9 579.9L329.7 579.2M335.6 577.6L339.2 574.2L345.3 573.6M349.6 571.3L354.4 568.6L359.1 566.8L364.6 565.4L369.7 563.4L375.8 559.9L379.8 559.4M386.4 556.6L390.1 554.5L395.1 553.3L400.7 550.7M406.8 548.6L411.6 545.7L416.4 544.5L421.1 542.8M425.9 540.8L432.4 537.8L437.4 535.6L442.6 533.5L446.2 532.3M451.3 529.7L457.7 528.2M280.7 604.0L284.6 602.1L291.1 600.3L296.0 599.4L300.0 595.8L306.5 594.5M316.9 589.3L320.1 587.6L327.0 585.1L332.2 584.5L336.0 581.5L341.2 579.1L347.0 578.1L352.5 576.3M355.7 573.6L362.6 570.8L368.0 569.3L372.1 566.5L377.1 565.0M388.2 562.1L393.3 560.1L397.8 556.5L402.2 556.3M413.7 551.4L417.3 548.9L423.7 546.3L428.1 545.4M439.1 541.6L443.9 537.6M448.6 537.3L453.4 534.9M283.1 608.6L286.9 606.9M292.3 606.5L298.5 604.2L302.7 600.9L308.7 600.0L312.1 597.7L318.3 594.8M323.4 593.4L328.3 592.0L333.5 588.2M338.8 586.3L342.9 585.2L348.0 582.1M358.7 579.5L363.3 576.6L368.4 575.2M373.6 574.0L379.8 571.6L384.7 567.8L388.9 565.8L394.9 564.1L399.5 561.9M415.6 555.9L421.4 554.4L425.8 552.9L429.6 550.4M451.4 542.3L456.3 540.6M284.6 615.4L288.3 612.5M294.6 611.5L300.5 607.8L303.9 606.2L309.7 604.3L316.2 603.2L320.3 600.2L324.9 597.9M331.0 595.9L336.1 593.5M349.6 587.7L356.0 585.8L360.6 583.7L366.8 582.4L371.5 580.2L376.4 577.1L382.0 576.2L386.7 572.8L392.0 572.1M396.3 568.9L401.1 567.0L407.0 565.4M412.2 562.7L417.9 561.5L421.9 558.4L427.7 558.1L432.1 555.2L436.8 553.8L441.8 550.4L447.4 549.2M285.9 620.2L290.8 617.9L297.7 615.2L302.4 614.6L305.8 611.5M312.8 608.5L316.9 607.2L321.3 605.1L327.2 602.4L331.5 601.7L337.6 599.0L342.8 598.0L347.4 594.3L353.1 592.9L358.6 590.9M367.2 586.6L373.4 585.2L377.3 582.5M383.0 580.6L387.9 579.7L393.3 577.4L400.1 575.2L404.0 573.7L408.7 569.5L414.5 569.3L419.7 565.3L425.2 564.4L428.8 562.2L433.7 559.5L439.4 558.2L443.9 557.0L450.7 553.6L455.7 552.7M304.3 617.8L308.5 616.6L314.7 614.8L319.0 613.8L324.1 611.7L329.0 608.6M334.6 607.5L339.9 603.6L344.9 603.2M349.8 599.4L355.3 599.1M369.6 591.9L376.0 589.8M396.4 580.9L399.9 579.0L407.3 578.1L411.8 574.6L416.2 572.9L421.6 570.2L427.4 570.1M431.7 566.6L435.9 564.9L442.2 562.1M447.3 560.5L452.0 558.6L457.0 555.9M311.5 621.3L315.6 620.9M320.8 618.2L326.2 615.2L332.6 613.6L335.9 611.6L341.0 609.2M362.8 600.3L366.2 599.4L372.1 596.5M388.1 591.5L392.8 587.9L398.2 587.1L402.3 584.7L407.0 582.7L412.1 580.1L418.2 578.5L423.9 576.5M433.4 573.4L438.0 571.1L443.9 567.2L448.3 566.8M334.3 618.4L339.1 615.4L343.4 615.7M347.9 613.1L353.6 609.6L359.0 607.4M364.5 605.1L369.4 604.9L373.8 601.8L379.0 600.8L385.6 598.4L388.9 596.9L395.2 594.4L399.6 591.4L406.1 590.4L410.5 586.6L414.9 586.6L421.0 582.9L425.7 582.6M435.8 578.2L440.1 575.5L446.4 573.9M451.9 572.0L454.7 569.1M334.9 623.6L340.8 622.5L345.8 619.3M351.6 618.4L355.9 615.4L360.0 613.7L365.5 611.2L371.2 610.0L377.6 607.5L381.5 605.9L386.3 604.3L392.5 601.0L397.1 600.0L401.6 597.8L407.3 593.8L412.4 592.3M415.9 590.5L422.0 589.3L427.5 586.5L432.5 584.7L436.8 582.2L443.8 580.8L447.4 578.8L452.5 577.3M352.3 623.4L358.7 619.6M362.3 618.7L369.2 617.3M373.2 613.9L378.1 613.7L383.2 611.7M389.1 608.8L392.7 606.3M398.8 605.4L404.5 601.9L409.8 600.3M414.8 596.7L419.4 595.2L423.7 594.4L430.4 592.4L433.7 589.4L439.1 587.2L445.9 586.1M450.9 583.5L455.9 581.8M385.0 614.7L391.4 614.1L394.6 611.2L401.0 608.2M405.5 608.2L411.8 606.1L416.7 602.6M420.4 601.7L427.4 598.7L431.7 596.6M437.0 595.0L442.5 592.0M445.9 590.6L451.8 588.2L456.4 586.2M377.9 623.8L383.8 622.9L387.2 620.6L393.7 619.0L398.9 616.4L402.1 615.1L408.4 611.6L412.0 610.0L417.2 607.5L423.6 606.2L428.0 604.3L433.5 602.0M438.8 601.1L443.6 597.1M448.1 596.6L453.0 593.9M405.4 618.4L410.7 618.2L416.1 616.1L421.1 613.1M425.5 610.3L430.3 608.5L435.9 606.6M440.7 604.1L445.8 602.8M451.2 600.6L455.6 598.4M417.5 620.0L421.7 618.6L428.5 616.5M431.6 613.9L437.5 612.5L442.9 610.9L447.4 607.3L453.0 606.5L457.4 603.4M425.1 622.6L428.3 621.1M439.4 617.1L444.6 615.9M442.7 622.9L445.8 620.4L451.5 617.9" fill="none" stroke="#70787a" stroke-width="0.5"/><polygon points="394.3,538.3 413,527.9 423.9,536.8 431.7,542.7 432.7,566.3 440.6,579.1 425.8,580.1 408.1,581.3 397.9,575.2 386.1,559.4" fill="#1f1e1c"/><path d="M396.3 571.2L408.1 554.5L420.9 537.2M420.9 537.2L428.8 543.7M405.7 556.9L416 562.4M416 562.4L412 570.2M425.8 567.3L431.7 567.9M425.8 567.3L423.9 575.2L429.8 576.1M400.2 566.3L406.1 570.2M416 525.9L416 497.4M408.1 554.5L400.2 548.6L394.3 538.3M410.1 558.4L418 559.4L418.9 564.3L410.5 563.9" fill="none" stroke="#70787a" stroke-width="0.5"/><g fill="#e3260e" stroke="#bd1f14" stroke-width="0.7"><circle cx="385.5" cy="494.6" r="5.8"/><circle cx="382.3" cy="505.2" r="5.8"/><circle cx="396" cy="509.6" r="5.8"/><circle cx="410.6" cy="505.9" r="5.8"/><circle cx="409.3" cy="514.3" r="5.8"/><circle cx="397.8" cy="526.1" r="5.8"/><circle cx="370" cy="533.5" r="5.8"/><circle cx="368.2" cy="542.1" r="5.8"/><circle cx="380.5" cy="538.4" r="5.8"/><circle cx="378.1" cy="547" r="5.8"/><circle cx="348.6" cy="529.1" r="5.8"/><circle cx="353.5" cy="530.5" r="5.8"/><circle cx="321.5" cy="539.6" r="5.8"/><circle cx="317.1" cy="522.4" r="5.8"/><circle cx="355.4" cy="561.8" r="5.8"/><circle cx="335" cy="571.6" r="5.8"/><circle cx="360.4" cy="574.1" r="5.8"/><circle cx="378.1" cy="591.3" r="5.8"/><circle cx="460.0" cy="627.9" r="5.8"/><circle cx="460.8" cy="635.0" r="5.8"/><circle cx="223.2" cy="822.7" r="5.8"/></g><g fill="#ffa01e" stroke="#ec7414" stroke-width="0.6"><circle cx="319.5" cy="479.9" r="3.1"/><circle cx="375.1" cy="505.7" r="3.1"/><circle cx="392.1" cy="519.2" r="3.1"/><circle cx="312.9" cy="515.5" r="3.1"/><circle cx="317.8" cy="521.7" r="3.1"/><circle cx="315.4" cy="526.1" r="3.1"/><circle cx="348.6" cy="526.1" r="3.1"/><circle cx="353" cy="530.5" r="3.1"/><circle cx="370" cy="539.6" r="3.1"/><circle cx="368.2" cy="544.6" r="3.1"/><circle cx="381" cy="538.4" r="3.1"/><circle cx="382.5" cy="543.3" r="3.1"/><circle cx="378.1" cy="547.5" r="3.1"/><circle cx="378.1" cy="591.3" r="3.1"/><circle cx="236.6" cy="556.1" r="3.8"/><circle cx="460.8" cy="635.3" r="3.1"/></g><ellipse cx="552.3" cy="532.5" rx="14.1" ry="12.8" fill="#c5240f" stroke="#b81d1b" stroke-width="1"/><ellipse cx="552.3" cy="590.2" rx="14.1" ry="13.2" fill="#ff7a08" stroke="#f77a10" stroke-width="1"/></svg>
<div class="legend"><span class="ln l1" style="left:578.2px;top:532.4px;font-size:13.4px;transform:scaleX(1.0698)">Fallecidos por arma</span><span class="ln l2" style="left:578.2px;top:551.6px;font-size:13.4px;transform:scaleX(1.0897)">de fuego</span><span class="ln l3" style="left:578.2px;top:585.3px;font-size:13.4px;transform:scaleX(1.0904)">Heridos por arma de</span><span class="ln l4" style="left:578.2px;top:604.0px;font-size:13.4px;transform:scaleX(1.1099)">fuego</span></div>
<p><span class="ln b1" style="left:21.5px;top:848.9px;font-size:19.4px;transform:scaleX(1.1290);word-spacing:0.65px">En medios existió el recuento de 39 personas que perdieron la vida las cuales</span><span class="ln b2" style="left:22.0px;top:877.7px;font-size:19.4px;transform:scaleX(1.1290);word-spacing:1.16px">tenían heridas con arma de fuego y 30 personas heridas con armas de fuego</span><span class="ln b3" style="left:22.0px;top:906.5px;font-size:19.4px;transform:scaleX(1.1291)">sobreviviendo a los ataques.</span></p>
<p><span class="ln n1" style="left:22.0px;top:954.0px;font-size:12.1px;transform:scaleX(1.1972)">*Nota en algunos puntos del mapa hay más de una víctima representada ya que las coordenadas son las mismas</span><span class="ln n2" style="left:22.0px;top:973.2px;font-size:12.1px;transform:scaleX(1.1861)">del lugar donde se localizaron las víctimas.</span></p>
<footer>
<div class="rule"></div>
<div class="pgbox"></div>
<span class="ln url" style="left:270.0px;top:1021.0px;font-size:16.4px;transform:scaleX(1.1318)">www.irapuatocomovamos.com</span><span class="ln pg" style="left:752.6px;top:1007.4px;font-size:27.6px;transform:scaleX(0.9636)">5</span>
</footer>
</div>
</body>
</html>
